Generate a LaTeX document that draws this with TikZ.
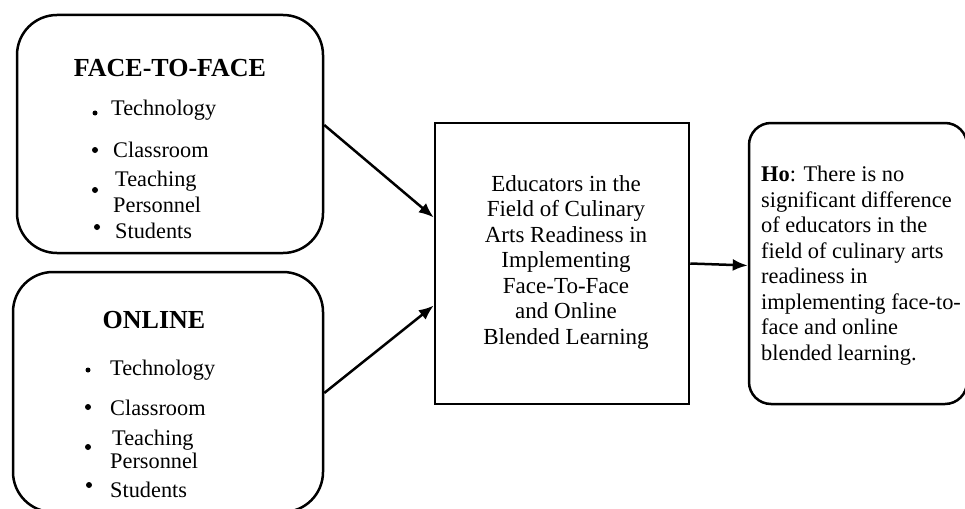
\documentclass[tikz,border=0pt]{standalone}
\usepackage{fontspec}
\setmainfont{Liberation Serif}
\usetikzlibrary{calc,arrows.meta}
\begin{document}
\begin{tikzpicture}[x=1pt,y=-1pt,
  box/.style={draw,line width=2.5pt,inner sep=0pt},
  rbox/.style={box,rounded corners=40pt},
  head/.style={anchor=base,inner sep=0pt,font=\bfseries\fontsize{26}{30}\selectfont},
  item/.style={anchor=base west,inner sep=0pt,font=\fontsize{22.3}{26}\selectfont},
  bul/.style={fill,circle,inner sep=0pt,minimum size=6pt},
  conn/.style={line width=2.5pt,-{Latex[length=15pt,width=12pt]}}]
\useasboundingbox (0,0) rectangle (965,508);
% boxes
\node[rbox,minimum width=306pt,minimum height=238pt] (f2f) at (170,134) {};
\node[rbox,minimum width=310pt,minimum height=240pt] (onl) at (168,392) {};
\node[box,minimum width=254pt,minimum height=281pt] (mid) at (562,263.5) {};
\node[box,rounded corners=22pt,minimum width=218pt,minimum height=281pt] (ho) at (858,263.5) {};
% face-to-face
\node[head] (h1) at (170,77) {FACE-TO-FACE};
\node[item] (t1) at (111,115) {Technology};
\node[item] (c1) at (113,157) {Classroom};
\node[item] (te1) at (115,186) {Teaching};
\node[item] (p1) at (113,212) {Personnel};
\node[item] (s1) at (115,238) {Students};
\node[bul,minimum size=5pt] (b11) at (95,113) {};
\node[bul] (b12) at (95,150) {};
\node[bul] (b13) at (95,190) {};
\node[bul] (b14) at (97,227) {};
% online
\node[head] (h2) at (154,328) {ONLINE};
\node[item] (t2) at (110,375) {Technology};
\node[item] (c2) at (110,415) {Classroom};
\node[item] (te2) at (112,445) {Teaching};
\node[item] (p2) at (110,468) {Personnel};
\node[item] (s2) at (110,497) {Students};
\node[bul,minimum size=5pt] (b21) at (88,370) {};
\node[bul] (b22) at (88,407) {};
\node[bul] (b23) at (88,447) {};
\node[bul] (b24) at (89,485) {};
% middle text
\node[align=center,inner sep=0pt,font=\fontsize{23}{25.5}\selectfont] (midtext) at (566,262)
  {Educators in the\\Field of Culinary\\Arts Readiness in\\Implementing\\Face-To-Face\\and Online\\Blended Learning};
% right text
\node[align=left,anchor=west,inner sep=0pt,font=\fontsize{22.4}{25.5}\selectfont] (hotext) at (761,265.5)
  {\textbf{Ho}: There is no\\significant difference\\of educators in the\\field of culinary arts\\readiness in\\implementing face-to-\\face and online\\blended learning.};
% connectors
\draw[conn] ($(f2f.east)+(0,-9)$) -- ($(mid.west)+(0,-46)$);
\draw[conn] ($(onl.east)+(0,1)$) -- ($(mid.west)+(0,42)$);
\draw[conn] (mid.east) -- ($(ho.west)+(0,2)$);
\end{tikzpicture}
\end{document}
